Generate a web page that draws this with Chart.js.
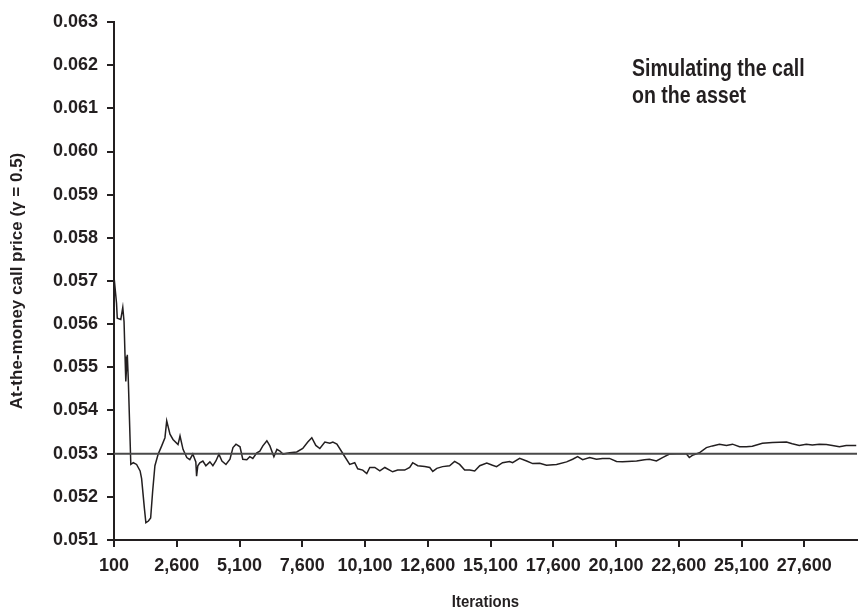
<!DOCTYPE html>
<html>
<head>
<meta charset="utf-8">
<script src="https://cdn.jsdelivr.net/npm/chart.js@4.4.1/dist/chart.umd.min.js"></script>
<style>
  html, body { margin: 0; padding: 0; background: #ffffff; }
  #wrap { width: 859px; height: 610px; position: relative; }
</style>
</head>
<body>
<div id="wrap"><canvas id="c" width="859" height="610"></canvas></div>
<script>
// ---- Data ----
const iterations = [
  100, 200, 230, 370, 450, 500, 540, 570, 630, 670,
  770, 870, 1000, 1140, 1200, 1310, 1370, 1470, 1560, 1640,
  1730, 1860, 2000, 2130, 2200, 2330, 2450, 2650, 2730, 2850,
  3000, 3120, 3240, 3360, 3390, 3440, 3520, 3640, 3760, 3920,
  4040, 4160, 4280, 4400, 4560, 4720, 4840, 4960, 5120, 5230,
  5390, 5510, 5630, 5790, 5910, 6030, 6190, 6310, 6470, 6590,
  6710, 6830, 7100, 7380, 7620, 7820, 7980, 8140, 8300, 8500,
  8700, 8820, 8980, 9210, 9490, 9690, 9810, 10010, 10170, 10290,
  10490, 10690, 10890, 11200, 11400, 11680, 11880, 12000, 12200, 12480,
  12680, 12800, 12960, 13190, 13470, 13670, 13870, 14070, 14270, 14470,
  14670, 14950, 15180, 15340, 15580, 15860, 15980, 16260, 16540, 16780,
  17060, 17330, 17730, 18130, 18370, 18570, 18770, 19050, 19320, 19560,
  19840, 20120, 20360, 20920, 21230, 21430, 21710, 21950, 22230, 22510,
  22900, 23020, 23140, 23420, 23700, 23940, 24220, 24500, 24740, 25020,
  25290, 25530, 25930, 26330, 26890, 27120, 27400, 27680, 27920, 28200,
  28480, 28720, 29000, 29270, 29670
];
const callPrice = [
  0.0571, 0.05649, 0.05614, 0.05611, 0.05639, 0.05606, 0.05525, 0.05467, 0.05529, 0.05471,
  0.05275, 0.05279, 0.05275, 0.0526, 0.05242, 0.05174, 0.0514, 0.05144, 0.05151, 0.05213,
  0.05272, 0.05299, 0.05318, 0.05337, 0.05376, 0.05345, 0.05333, 0.05321, 0.05341, 0.0531,
  0.05291, 0.05286, 0.05299, 0.05281, 0.05248, 0.05272, 0.05279, 0.05283, 0.05272, 0.05281,
  0.05272, 0.05283, 0.05299, 0.05283, 0.05275, 0.05287, 0.05314, 0.05322, 0.05316, 0.05287,
  0.05286, 0.05293, 0.05289, 0.05302, 0.05306, 0.05318, 0.0533, 0.05318, 0.05293, 0.0531,
  0.05306, 0.05299, 0.05302, 0.05304, 0.05312, 0.05327, 0.05337, 0.05319, 0.05312, 0.05327,
  0.05324, 0.05327, 0.05322, 0.05301, 0.05275, 0.05279, 0.05265, 0.05262, 0.05254, 0.05268,
  0.05268, 0.0526, 0.05268, 0.05258, 0.05262, 0.05262, 0.05268, 0.05279, 0.05272, 0.0527,
  0.05268, 0.05259, 0.05266, 0.0527, 0.05272, 0.05282, 0.05275, 0.05262, 0.05262, 0.0526,
  0.05272, 0.05278, 0.05273, 0.0527, 0.05279, 0.05282, 0.05279, 0.05289, 0.05283, 0.05277,
  0.05278, 0.05273, 0.05275, 0.05281, 0.05287, 0.05293, 0.05286, 0.05291, 0.05287, 0.05289,
  0.05289, 0.05282, 0.05281, 0.05283, 0.05286, 0.05287, 0.05283, 0.05291, 0.05299, 0.053,
  0.053, 0.05291, 0.05296, 0.05302, 0.05314, 0.05318, 0.05322, 0.05319, 0.05322, 0.05316,
  0.05316, 0.05317, 0.05324, 0.05326, 0.05327, 0.05323, 0.05319, 0.05322, 0.0532, 0.05322,
  0.05321, 0.05319, 0.05316, 0.05319, 0.05319
];
const referenceIterations = [100, 29700];
const referencePrice = [0.053, 0.053];
const xTickValues = [100, 2600, 5100, 7600, 10100, 12600, 15100, 17600, 20100, 22600, 25100, 27600];
const yTickValues = [0.051, 0.052, 0.053, 0.054, 0.055, 0.056, 0.057, 0.058, 0.059, 0.060, 0.061, 0.062, 0.063];
const xAxisTitle = 'Iterations';
const yAxisTitle = 'At-the-money call price (\u03B3 = 0.5)';
const annotationLines = ['Simulating the call', 'on the asset'];

// ---- Chart ----
const INK = '#231f20';
Chart.defaults.font.family = '"Liberation Sans", Arial, sans-serif';
Chart.defaults.font.weight = 'bold';
Chart.defaults.color = INK;

// draws text horizontally condensed (the reference uses a condensed bold face)
function condensedText(ctx, text, x, y, size, squeeze, align) {
  ctx.save();
  ctx.font = 'bold ' + size + 'px "Liberation Sans", Arial, sans-serif';
  ctx.fillStyle = INK;
  ctx.textBaseline = 'alphabetic';
  ctx.textAlign = align;
  ctx.translate(x, y);
  ctx.scale(squeeze, 1);
  ctx.fillText(text, 0, 0);
  ctx.restore();
}

const textPlugin = {
  id: 'textPlugin',
  afterDraw(chart) {
    const ctx = chart.ctx;
    annotationLines.forEach((t, i) => condensedText(ctx, t, 632, 76 + i * 26.5, 23, 0.85, 'left'));
    const xs = chart.scales.x;
    condensedText(ctx, xAxisTitle, (xs.left + xs.right) / 2, 607, 17, 0.88, 'center');
  }
};

new Chart(document.getElementById('c'), {
  type: 'line',
  data: {
    datasets: [
      {
        label: 'reference',
        data: referenceIterations.map((x, i) => ({ x, y: referencePrice[i] })),
        borderColor: '#4a4a4a',
        borderWidth: 2,
        pointRadius: 0,
        tension: 0
      },
      {
        label: 'call price',
        data: iterations.map((x, i) => ({ x, y: callPrice[i] })),
        borderColor: INK,
        borderWidth: 1.5,
        pointRadius: 0,
        tension: 0
      }
    ]
  },
  options: {
    responsive: false,
    animation: false,
    events: [],
    layout: { padding: { left: 0, right: 2, top: 22, bottom: 0 } },
    plugins: { legend: { display: false }, tooltip: { enabled: false } },
    scales: {
      x: {
        type: 'linear',
        min: 100,
        max: 29700,
        afterBuildTicks(scale) { scale.ticks = xTickValues.map(v => ({ value: v })); },
        afterFit(scale) { scale.height = 70; },
        grid: { drawOnChartArea: false, drawTicks: true, tickLength: 7, color: INK, lineWidth: 2 },
        border: { display: true, color: INK, width: 2 },
        ticks: {
          autoSkip: false,
          maxRotation: 0,
          padding: 8,
          font: { size: 18, weight: 'bold' },
          callback: v => v.toLocaleString('en-US')
        },
        title: { display: false }
      },
      y: {
        type: 'linear',
        min: 0.051,
        max: 0.063,
        afterBuildTicks(scale) { scale.ticks = yTickValues.map(v => ({ value: v })); },
        afterFit(scale) { scale.width = 114; },
        grid: { drawOnChartArea: false, drawTicks: true, tickLength: 7, color: INK, lineWidth: 2 },
        border: { display: true, color: INK, width: 2 },
        ticks: {
          autoSkip: false,
          padding: 9,
          font: { size: 18, weight: 'bold' },
          callback: v => Number(v).toFixed(3)
        },
        title: {
          display: true,
          text: yAxisTitle,
          font: { size: 17, weight: 'bold', lineHeight: 1 },
          padding: { top: 9, bottom: 0 },
          color: INK
        }
      }
    }
  },
  plugins: [textPlugin]
});
</script>
</body>
</html>
